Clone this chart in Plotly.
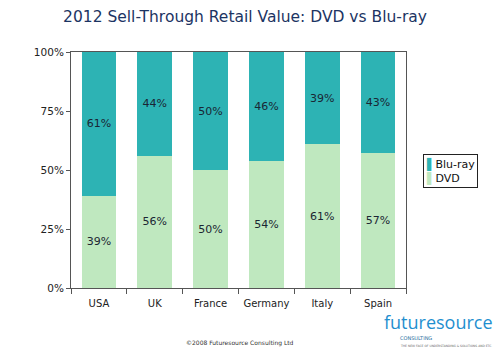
import plotly.graph_objects as go

countries = ["USA", "UK", "France", "Germany", "Italy", "Spain"]
dvd = [39, 56, 50, 54, 61, 57]
bluray = [61, 44, 50, 46, 39, 43]
y_ticks = [0, 25, 50, 75, 100]
y_tick_labels = ["0%", "25%", "50%", "75%", "100%"]

font = "DejaVu Sans"
c_blu = "#2db3b4"
c_dvd = "#bfe8bf"

fig = go.Figure()
fig.add_trace(go.Bar(
    x=countries, y=dvd, name="DVD",
    marker=dict(color=c_dvd, line=dict(width=0)),
    text=[f"{v}%" for v in dvd], textposition="inside", insidetextanchor="middle",
    textfont=dict(family=font, size=11, color="#1a2633"),
    width=0.62,
))
fig.add_trace(go.Bar(
    x=countries, y=bluray, name="Blu-ray",
    marker=dict(color=c_blu, line=dict(width=0)),
    text=[f"{v}%" for v in bluray], textposition="inside", insidetextanchor="middle",
    textfont=dict(family=font, size=11, color="#1a2633"),
    width=0.62,
))

fig.update_layout(
    width=500, height=350,
    barmode="stack",
    margin=dict(l=71, r=94, t=52, b=62),
    paper_bgcolor="white", plot_bgcolor="white",
    title=dict(text="2012 Sell-Through Retail Value: DVD vs Blu-ray",
               x=0.49, xanchor="center", y=0.952, yanchor="middle",
               font=dict(family=font, size=15.5, color="#1c3463")),
    font=dict(family=font, size=11, color="#222"),
    showlegend=False,
    uniformtext=dict(mode="show", minsize=10),
)
fig.update_yaxes(range=[0, 100], tickvals=y_ticks, ticktext=y_tick_labels,
                 showgrid=False, showline=True, linecolor="#555", linewidth=1,
                 mirror=True, ticks="outside", ticklen=4, tickcolor="#555",
                 tickfont=dict(family=font, size=10.5, color="#222"), zeroline=False)
fig.update_xaxes(showgrid=False, showline=True, linecolor="#555", linewidth=1,
                 mirror=True, ticks="outside", ticklen=5, tickcolor="#555",
                 tickson="boundaries", tickangle=0, ticklabelstandoff=6,
                 tickfont=dict(family=font, size=10, color="#222"))

# legend box drawn as an annotation
fig.add_annotation(
    text=f"<span style='color:{c_blu}'>▌</span>Blu-ray<br><span style='color:{c_dvd}'>▌</span>DVD",
    xref="paper", yref="paper", x=1.05, y=0.568, xanchor="left", yanchor="top",
    align="left", showarrow=False, bordercolor="#222", borderwidth=1, borderpad=2,
    bgcolor="white", font=dict(family=font, size=11, color="#111"))

fig.add_annotation(text="©2008 Futuresource Consulting Ltd", xref="paper", yref="paper",
                   x=0.504, y=-0.235, showarrow=False, xanchor="center", yanchor="middle",
                   font=dict(family=font, size=6, color="#333"))
fig.add_annotation(text="futuresource", xref="paper", yref="paper",
                   x=1.266, y=-0.142, showarrow=False, xanchor="right", yanchor="middle",
                   font=dict(family="Open Sans", size=18, color="#1f8fcf"))
fig.add_annotation(text="CONSULTING", xref="paper", yref="paper",
                   x=0.976, y=-0.212, showarrow=False, xanchor="left", yanchor="middle",
                   font=dict(family=font, size=5, color="#1f6fa0"))
fig.add_annotation(text="THE NEW FACE OF UNDERSTANDING & SOLUTIONS AND ETC.", xref="paper", yref="paper",
                   x=0.976, y=-0.245, showarrow=False, xanchor="left", yanchor="middle",
                   font=dict(family=font, size=3, color="#666"))

fig.write_html("out.html")
